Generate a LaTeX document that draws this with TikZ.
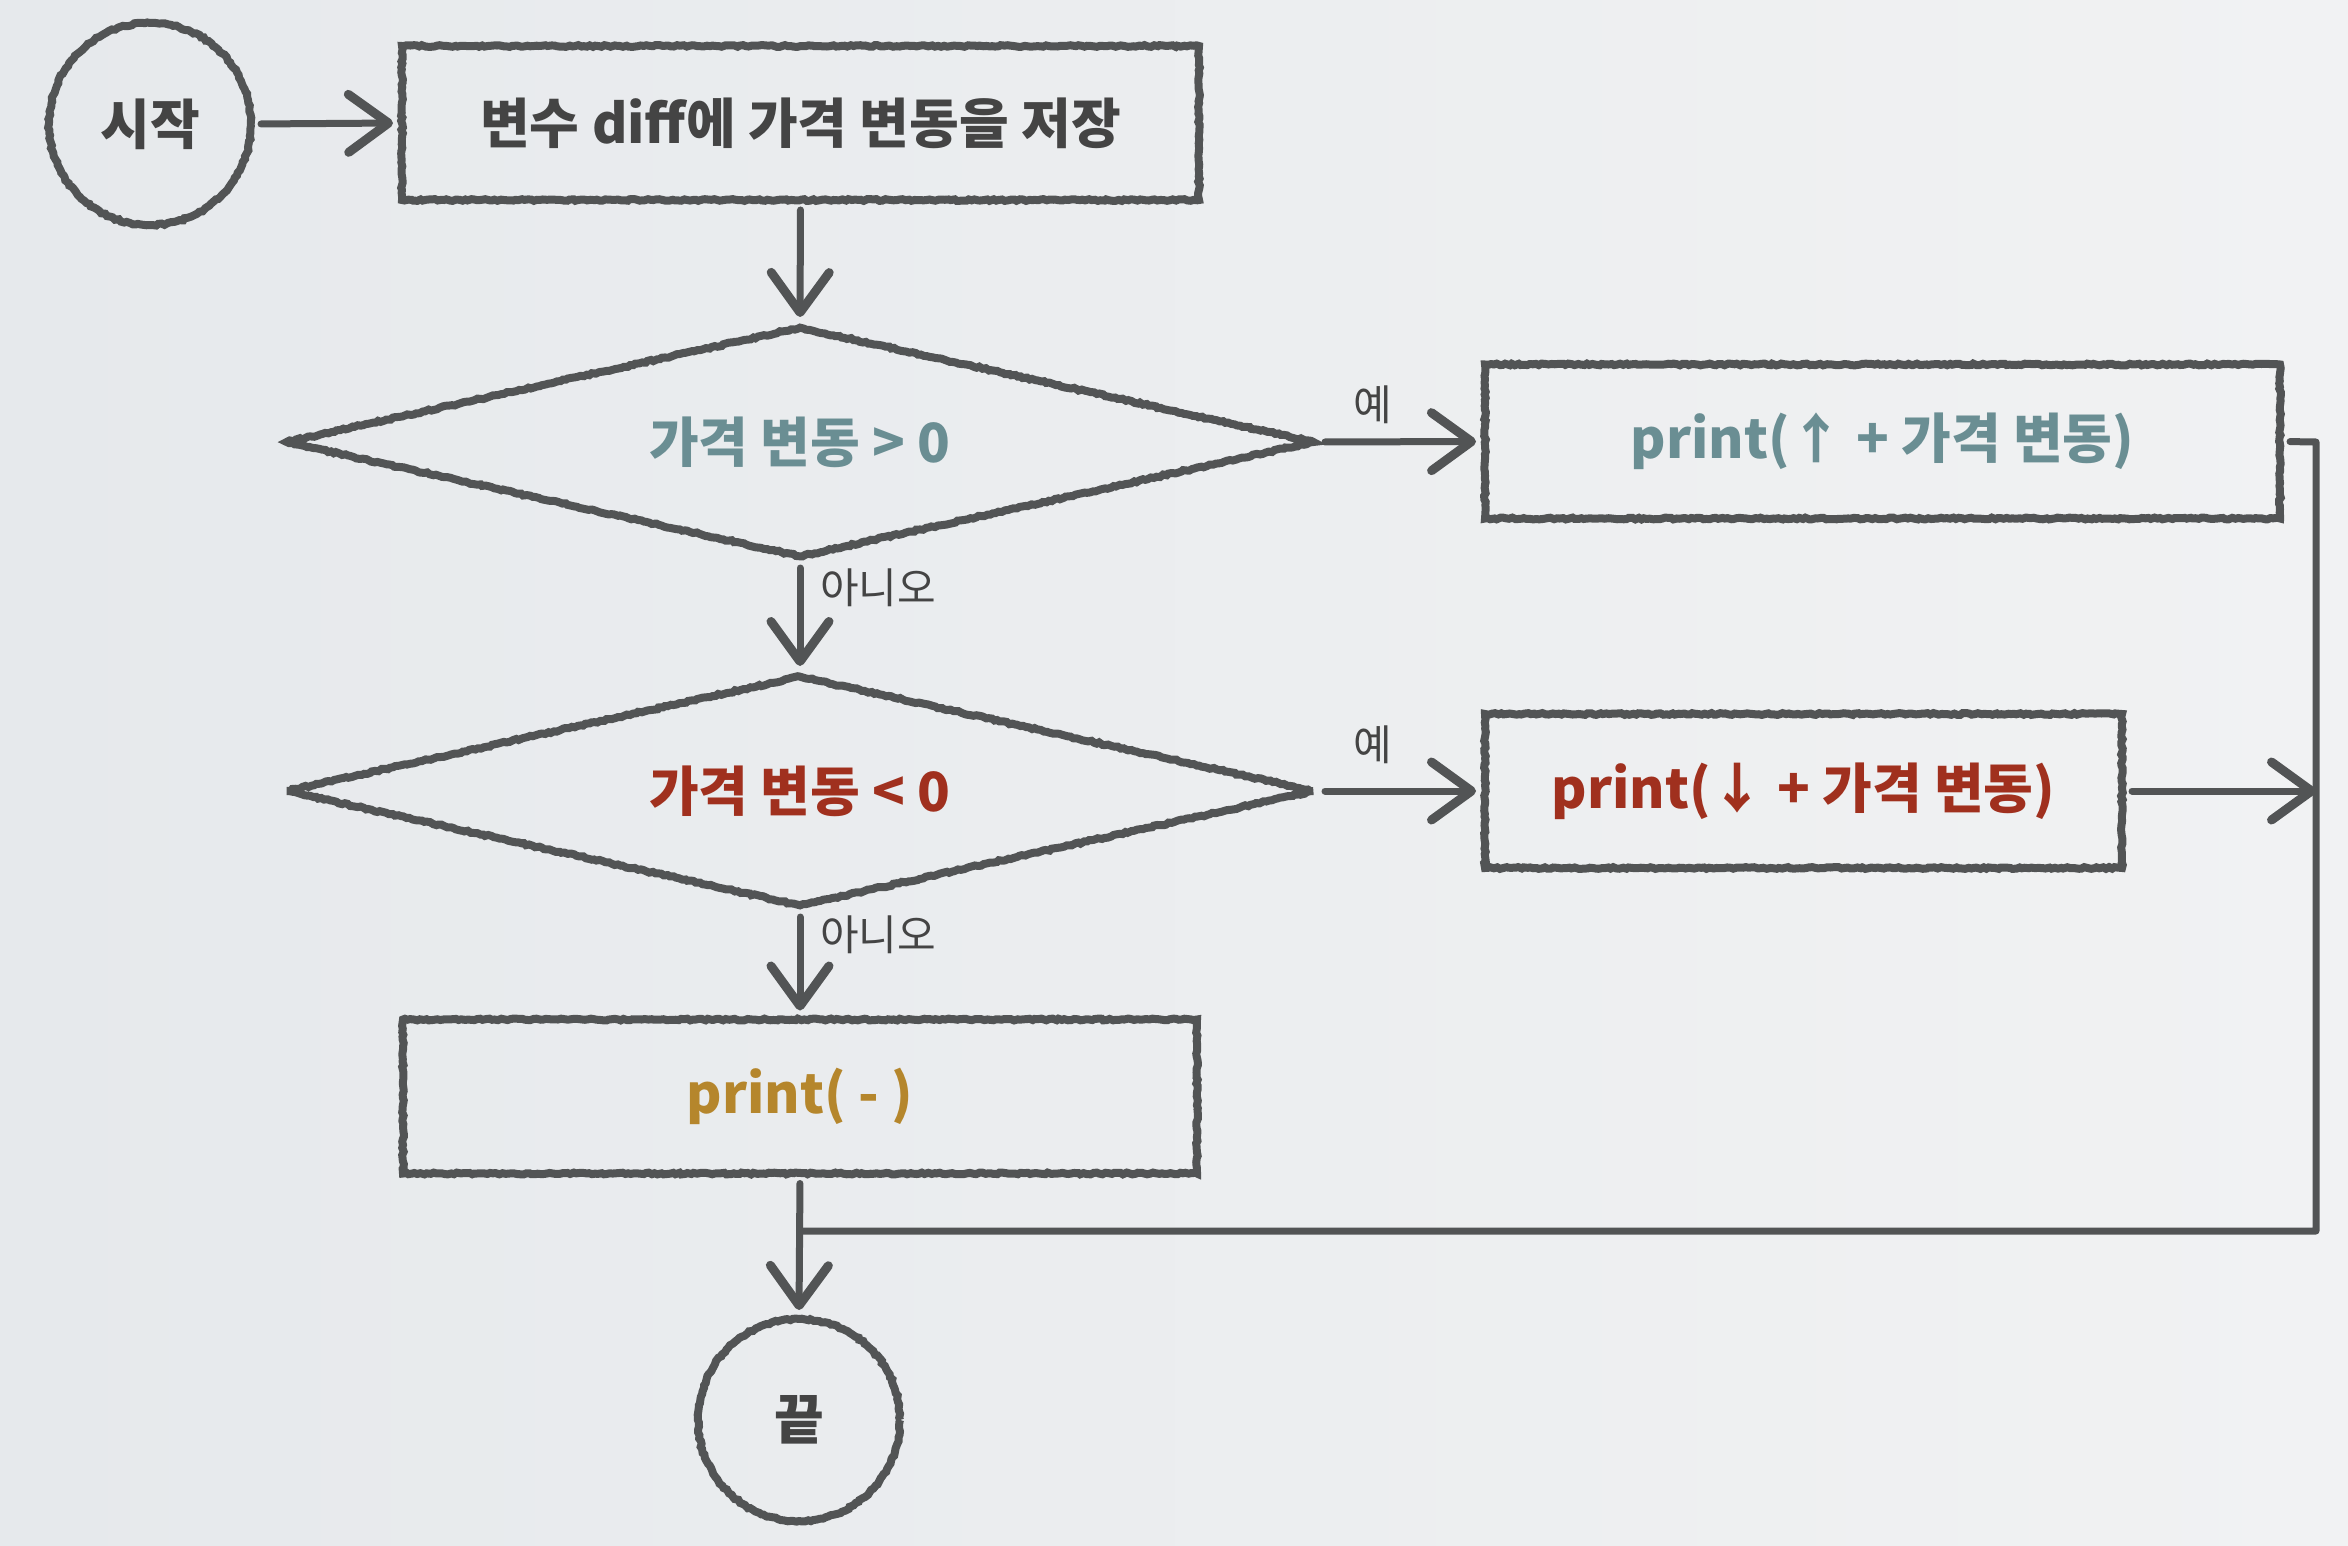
\documentclass[tikz,border=0pt]{standalone}
\usepackage{fontspec}
\setmainfont{Noto Sans CJK KR}
\usetikzlibrary{shapes.geometric,arrows.meta,decorations.pathmorphing}
\definecolor{bgA}{HTML}{E6E9EC}
\definecolor{bgB}{HTML}{F1F2F3}
\definecolor{ink}{HTML}{525455}
\definecolor{txt}{HTML}{444444}
\definecolor{teal}{HTML}{6A8E93}
\definecolor{brick}{HTML}{A0301E}
\definecolor{gold}{HTML}{B5862C}
\pgfmathsetseed{7}
\tikzset{
  x=1pt,y=-1pt,
  chalk/.style={decorate,decoration={random steps,segment length=3pt,amplitude=0.9pt}},
  shapeline/.style={draw=ink,line width=8pt,chalk},
  boxnode/.style={shapeline,rectangle,inner sep=0pt,minimum height=154pt},
  termnode/.style={shapeline,circle,inner sep=0pt,minimum size=202pt},
  decnode/.style={shapeline,diamond,shape aspect=4.4,inner sep=0pt,minimum width=1030pt,minimum height=232pt},
  maintext/.style={font=\fontsize{54}{60}\selectfont\bfseries},
  lbl/.style={font=\fontsize{42}{48}\selectfont,text=txt,inner sep=0pt},
  conn/.style={draw=ink,line width=7pt,line cap=round,line join=round},
  arr/.style={conn,-{Straight Barb[length=40pt,width=58pt,line width=9pt,round]},shorten >=5pt,shorten <=6pt},
}
\begin{document}
\begin{tikzpicture}
\shade[left color=bgA,right color=bgB] (0,0) rectangle (2348,1546);
\useasboundingbox (0,0) rectangle (2348,1546);

\node[termnode,maintext,text=txt] (s) at (150,124) {시작};
\node[boxnode,maintext,text=txt,minimum width=797pt] (r1) at (800.5,123) {변수 diff에 가격 변동을 저장};
\node[decnode,maintext,text=teal] (d1) at (800,442) {가격 변동 > 0};
\node[boxnode,maintext,text=teal,minimum width=795pt] (pu) at (1882.5,441.5) {print(↑ + 가격 변동)};
\node[decnode,maintext,text=brick] (d2) at (800,791) {가격 변동 < 0};
\node[boxnode,maintext,text=brick,minimum width=637pt] (pd) at (1803.5,791) {print(↓ + 가격 변동)};
\node[boxnode,maintext,text=gold,minimum width=794pt] (pm) at (800,1096.5) {print( - )};
\node[termnode,maintext,text=txt] (e) at (799,1420) {끝};

\coordinate (rx) at (2316,442);
\coordinate (ry) at (2316,1231);
\coordinate (j) at (800,1231);

\draw[arr] (s.east) -- (r1.west);
\draw[arr] (r1.south) -- (d1.north);
\draw[arr] (d1.south) -- (d2.north);
\draw[arr] (d1.east) -- (pu.west);
\draw[arr] (d2.east) -- (pd.west);
\draw[arr] (d2.south) -- (pm.north);
\draw[arr] (pm.south) -- (e.north);
\draw[conn,shorten <=6pt] (pu.east) -- (rx) -- (ry) -- (j);
\draw[arr,shorten >=0pt] (pd.east) -- (pd.east -| rx);

\node[lbl,anchor=west] (n1) at (820,588) {아니오};
\node[lbl,anchor=west] (n2) at (820,935) {아니오};
\node[lbl] (y1) at (1373,405) {예};
\node[lbl] (y2) at (1373,745) {예};
\end{tikzpicture}
\end{document}
